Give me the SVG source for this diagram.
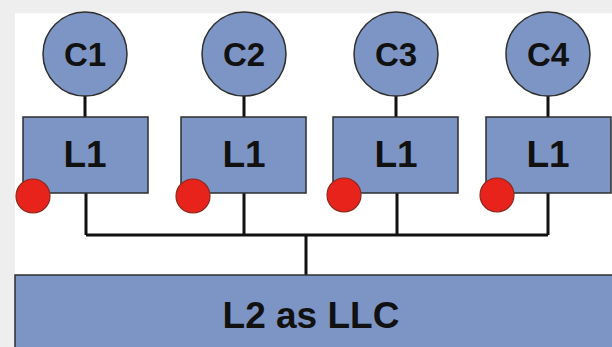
<svg xmlns="http://www.w3.org/2000/svg" width="612" height="347" viewBox="0 0 612 347">
<style>
.n{fill:#7d95c5;stroke:#2e2e2e;stroke-width:1.5}
.r{fill:#e8231c;stroke:#8a2a20;stroke-width:1.2}
.t{font-family:"Liberation Sans",Arial,sans-serif;font-weight:bold;fill:#111;text-anchor:middle}
.c{fill:none;stroke:#111;stroke-width:3}
</style>
<rect width="612" height="347" fill="#eeeeee"/>
<rect x="15" y="13" width="597" height="334" fill="#ffffff"/>
<g id="connectors">
<path class="c" d="M85 96V117M244 96V117M396 96V117M548 96V117"/>
<path class="c" d="M86 193V235M244 193V235M397 193V235M548 193V235M86 235H548M306 235V275"/>
</g>
<g id="C1"><circle class="n" cx="85" cy="54" r="42"/><text class="t" x="85" y="66" font-size="33">C1</text></g>
<g id="C2"><circle class="n" cx="244" cy="54" r="42"/><text class="t" x="244" y="66" font-size="33">C2</text></g>
<g id="C3"><circle class="n" cx="396" cy="54" r="42"/><text class="t" x="396" y="66" font-size="33">C3</text></g>
<g id="C4"><circle class="n" cx="548" cy="54" r="42"/><text class="t" x="548" y="66" font-size="33">C4</text></g>
<g id="L1a"><rect class="n" x="23" y="117" width="125" height="76"/><text class="t" x="85" y="167" font-size="37">L1</text><circle class="r" cx="33" cy="196" r="17"/></g>
<g id="L1b"><rect class="n" x="181" y="117" width="125" height="76"/><text class="t" x="244" y="167" font-size="37">L1</text><circle class="r" cx="193" cy="196" r="17"/></g>
<g id="L1c"><rect class="n" x="333" y="117" width="125" height="76"/><text class="t" x="396" y="167" font-size="37">L1</text><circle class="r" cx="344" cy="195" r="17"/></g>
<g id="L1d"><rect class="n" x="486" y="117" width="125" height="76"/><text class="t" x="548" y="167" font-size="37">L1</text><circle class="r" cx="497" cy="195" r="17"/></g>
<g id="L2"><rect class="n" x="15" y="275" width="600" height="80"/><text class="t" x="311" y="328" font-size="37">L2 as LLC</text></g>
</svg>
